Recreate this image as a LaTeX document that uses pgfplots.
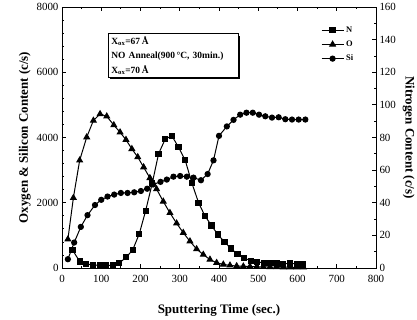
\documentclass[border=0pt]{standalone}
\usepackage{pgfplots}
\pgfplotsset{compat=1.18}
\usepackage{fontspec}
\setmainfont{Liberation Serif}
\usetikzlibrary{shadows}

\pgfplotstableread{
t v
15 270
31 780
48 1260
65 1620
84 1930
100 2090
116 2190
133 2250
150 2300
167 2300
184 2320
201 2360
217 2430
232 2560
251 2640
267 2710
284 2800
301 2820
318 2800
335 2770
354 2690
371 2880
386 3300
400 4050
420 4340
437 4540
454 4700
470 4760
486 4760
502 4700
518 4650
535 4610
552 4620
569 4560
586 4550
603 4550
620 4550
}\Si

\pgfplotstableread{
t v
15 880
29 2150
45 3300
63 4010
80 4520
97 4720
114 4650
132 4380
148 4160
163 3930
178 3650
193 3400
208 3090
224 2760
241 2420
258 2040
275 1690
292 1370
309 1080
326 820
343 580
360 410
377 260
394 160
411 110
428 80
445 60
462 50
479 45
496 40
513 35
530 30
547 30
564 25
581 25
598 20
615 20
}\Ox

\pgfplotstableread{
t v
27 11
45 4
62 2.5
79 1.8
96 1.6
112 1.6
129 1.7
146 3
163 6.5
180 11
197 21
213 35
230 52
246 70
263 79
280 81
297 74
314 66
331 52
348 40
364 32
381 26
397 20.5
414 16
430 12
447 8.5
464 6
481 4.5
497 3.8
514 3.2
531 3
548 2.8
564 2.6
581 2.8
598 2.5
614 2.3
}\Ni

\begin{document}
\begin{tikzpicture}
\useasboundingbox (-62bp,-52bp) rectangle (355bp,268bp);
\pgfplotsset{
  every axis/.append style={
    scale only axis, width=314bp, height=261bp,
    at={(0,0)}, anchor=south west,
    xmin=0, xmax=800,
    tick align=inside,
    major tick length=4bp, minor tick length=2bp,
    tick style={line width=0.8pt, black},
    /pgf/number format/assume math mode=true,
    /pgf/number format/1000 sep={},
    ticklabel style={font=\fontsize{11}{13}\selectfont},
    label style={font=\bfseries\fontsize{13}{15}\selectfont},
  },
}
\begin{axis}[
  ymin=0, ymax=8000,
  axis line style={line width=1pt},
  xtick={0,100,...,800}, minor x tick num=1,
  ytick={0,2000,...,8000}, minor y tick num=4,
  xtick pos=both, ytick pos=left,
  xticklabel style={yshift=-4bp},
  xlabel={Sputtering Time (sec.)},
  ylabel={Oxygen \& Silicon Content (c/s)},
  xlabel style={yshift=-15bp},
  ylabel style={yshift=-1bp},
]
\addplot[black, line width=1pt, mark=triangle*, mark size=3.2bp] table[x=t,y=v]{\Ox};
\addplot[black, line width=1pt, mark=*, mark size=2.6bp] table[x=t,y=v]{\Si};
\node[draw, line width=0.9pt, fill=white, anchor=north west, align=left,
      inner sep=3bp, text width=124bp,
      drop shadow={shadow xshift=2bp, shadow yshift=-2bp, fill=black, opacity=1},
      font=\bfseries\fontsize{9.5}{14.5}\selectfont]
  at (axis cs:117,7200)
  {X$_{\mathbf{ox}}$=67\,Å\\NO Anneal(900\,°C, 30min.)\\X$_{\mathbf{ox}}$=70\,Å};
\end{axis}
\begin{axis}[
  ymin=0, ymax=160,
  axis x line=none,
  axis y line*=right,
  axis line style={line width=1pt},
  ytick={0,20,...,160}, minor y tick num=1,
  ylabel={Nitrogen Content (c/s)},
  ylabel style={rotate=180},
  legend style={draw=none, fill=none, at={(0.815,0.94)}, anchor=north west,
    font=\bfseries\fontsize{8.5}{10}\selectfont, row sep=3bp},
  legend cell align=left,
  legend image code/.code={\draw[#1] (0bp,0bp) -- (22bp,0bp);
    \draw[#1, only marks] plot coordinates {(11bp,0bp)};},
]
\addplot[black, line width=1pt, mark=square*, mark size=2.6bp] table[x=t,y=v]{\Ni};
\addlegendentry{N}
\addlegendimage{black, line width=1pt, mark=triangle*, mark size=3.2bp}
\addlegendentry{O}
\addlegendimage{black, line width=1pt, mark=*, mark size=2.6bp}
\addlegendentry{Si}
\end{axis}
\end{tikzpicture}
\end{document}
